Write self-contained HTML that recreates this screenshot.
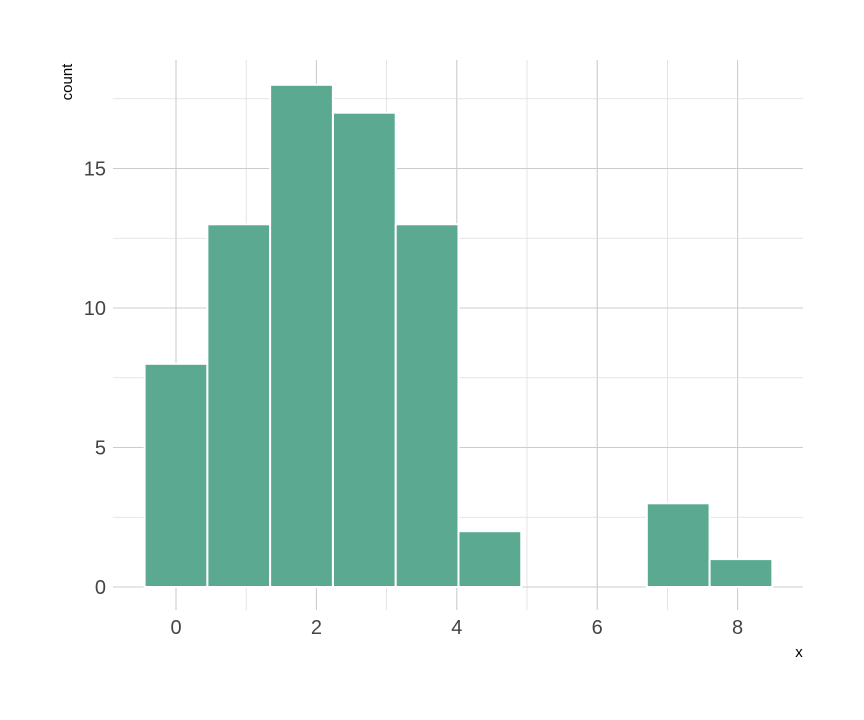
<!DOCTYPE html>
<html><head><meta charset="utf-8"><style>
body{margin:0;background:#fff}
svg{display:block;font-family:"Liberation Sans",sans-serif}
</style></head><body>
<svg id="chart" width="864" height="720">
<g id="grid"></g>
<g id="bars"></g>
<g id="axes"></g>
<text x="72" y="82" transform="rotate(-90 72 82)" text-anchor="middle" font-size="15" fill="#000">count</text>
<text x="799" y="657" text-anchor="middle" font-size="15" fill="#000">x</text>
</svg>
<script>
const binCenters=[0,0.894,1.788,2.683,3.577,4.471,5.365,6.26,7.154,8.048];
const counts=[8,13,18,17,13,2,0,0,3,1];
const xTicks=[0,2,4,6,8];
const yTicks=[0,5,10,15];
const binWidth=0.894;
const NS="http://www.w3.org/2000/svg";
const sx=v=>176+v*70.2;
const sy=v=>587-v*27.9;
function mk(tag,attrs,parent){const e=document.createElementNS(NS,tag);for(const k in attrs)e.setAttribute(k,attrs[k]);parent.appendChild(e);return e;}
const grid=document.getElementById('grid'),bars=document.getElementById('bars'),axes=document.getElementById('axes');
for(let v=-0.5;v<=8.6;v+=0.5){if(v<-0.4)continue;const x=sx(v);const major=Number.isInteger(v/2);
 const l=mk('line',{x1:x,x2:x,y1:60,y2:610,stroke:major?'#cccccc':'#dddddd','stroke-width':major?1.1:0.8},grid);
 
 if(!Number.isInteger(v))grid.removeChild(l);}
for(let v=0;v<=17.5;v+=2.5){const y=sy(v);const major=v%5===0;
 const l=mk('line',{x1:113,x2:803,y1:y,y2:y,stroke:major?'#cccccc':'#dddddd','stroke-width':major?1.1:0.8},grid);
 }
binCenters.forEach((c,i)=>{if(counts[i]<=0)return;
 const x0=sx(c-binWidth/2),x1=sx(c+binWidth/2);
 const r=mk('rect',{x:x0,y:sy(counts[i]),width:x1-x0,height:sy(0)-sy(counts[i]),fill:'#5aa990',stroke:'#fff','stroke-width':2},bars);
 });
xTicks.forEach(v=>{const t=mk('text',{x:sx(v),y:634,'text-anchor':'middle','font-size':20,fill:'#444'},axes);t.textContent=v;
 });
yTicks.forEach(v=>{const t=mk('text',{x:106,y:sy(v)+7,'text-anchor':'end','font-size':20,fill:'#444'},axes);t.textContent=v;
 });
</script>
</body></html>
